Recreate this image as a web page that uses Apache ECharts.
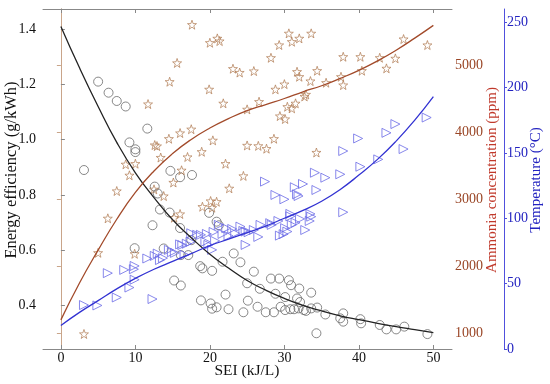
<!DOCTYPE html>
<html>
<head>
<meta charset="utf-8">
<script src="https://cdn.jsdelivr.net/npm/echarts@6/dist/echarts.min.js"></script>
<style>html,body{margin:0;padding:0;background:#fff}#c{width:550px;height:384px}</style>
</head>
<body>
<div id="c"></div>
<script>
// ---- data ----
var xTicks = [0, 10, 20, 30, 40, 50];
var effTicks = [0.4, 0.6, 0.8, 1.0, 1.2, 1.4];
var nh3Ticks = [1000, 2000, 3000, 4000, 5000];
var tempTicks = [0, 50, 100, 150, 200, 250];

// Energy efficiency (g/kWh) measured points
var effPoints = [[3.1,0.89],[5.0,1.21],[6.4,1.17],[7.5,1.14],[8.7,1.12],[11.6,1.04],[9.2,0.99],[10.0,0.965],[10.0,0.955],[14.7,0.887],[16.0,0.864],[17.6,0.872],[12.6,0.83],[13.0,0.805],[13.3,0.747],[14.6,0.736],[12.3,0.69],[16.0,0.68],[9.9,0.607],[17.5,0.636],[16.1,0.582],[17.1,0.582],[13.8,0.606],[15.2,0.49],[16.1,0.472],[18.7,0.542],[19.0,0.534],[18.8,0.418],[19.9,0.735],[20.9,0.703],[21.2,0.69],[21.7,0.558],[23.2,0.588],[24.1,0.556],[25.9,0.522],[20.3,0.525],[20.1,0.407],[20.3,0.388],[20.9,0.393],[22.1,0.439],[22.5,0.386],[24.5,0.375],[25.1,0.417],[26.4,0.395],[25.0,0.48],[26.7,0.46],[27.5,0.375],[28.6,0.375],[28.2,0.497],[29.3,0.497],[30.6,0.491],[30.9,0.473],[32.0,0.461],[33.6,0.446],[28.8,0.442],[30.1,0.43],[31.7,0.425],[32.1,0.412],[29.5,0.395],[30.1,0.383],[30.8,0.386],[31.3,0.386],[31.9,0.389],[32.6,0.383],[32.9,0.38],[33.6,0.389],[34.4,0.392],[35.5,0.367],[34.3,0.299],[37.5,0.353],[37.9,0.371],[37.9,0.341],[40.2,0.35],[40.3,0.335],[42.8,0.329],[43.7,0.313],[45.0,0.313],[46.1,0.323],[49.2,0.296]];

// Ammonia concentration (ppm) measured points
var nh3Points = [[3.1,990],[5.0,2200],[6.3,2714],[7.5,3121],[8.7,3519],[9.2,3355],[10.0,3528],[9.9,2185],[11.7,4417],[12.5,3146],[12.6,3806],[12.9,3791],[13.4,3620],[13.8,3046],[14.5,3900],[14.6,4750],[15.6,5030],[15.1,3248],[15.2,2723],[16.0,2778],[16.0,3985],[16.2,3430],[17.0,3628],[17.5,4042],[17.6,5600],[18.9,3706],[19.0,2887],[19.9,4636],[20.0,5331],[20.1,2972],[20.3,2872],[20.9,2961],[20.4,3876],[21.0,5396],[21.3,5356],[21.8,4428],[22.1,3528],[22.6,3161],[23.1,4944],[24.0,4887],[24.5,3346],[25.0,4338],[25.0,3800],[25.9,4909],[26.5,3794],[26.6,4452],[27.6,3752],[28.2,5107],[28.6,3900],[28.8,4636],[29.3,5297],[29.4,4238],[30.0,4714],[30.1,4194],[30.4,4377],[30.6,5471],[31.0,5346],[31.0,4353],[31.5,4428],[31.7,4899],[32.0,5396],[32.0,4824],[32.7,4530],[32.9,4560],[33.5,4760],[33.6,5471],[34.3,3695],[34.4,4914],[35.6,4735],[37.6,4824],[37.9,5122],[37.9,4700],[40.2,5122],[40.4,4914],[42.8,5107],[43.7,4949],[44.9,5098],[46.0,5386],[49.2,5297]];

// Temperature (°C) measured points
var tempPoints = [[3.1,33.6],[4.9,33.3],[6.3,58],[7.5,39.4],[8.5,60.5],[9.2,47],[9.8,61],[9.9,63.5],[9.9,53],[11.6,69.2],[12.3,38.2],[12.6,71.2],[13.0,73],[13.3,68],[13.7,69.5],[14.5,75.8],[14.9,74],[15.3,73.5],[16.0,80],[16.3,79.5],[16.6,72],[16.9,80.5],[17.4,82],[17.5,88.5],[18.3,87.3],[18.8,87.3],[19.6,88],[19.4,82],[19.8,79.6],[20.5,89.5],[20.7,82.7],[20.3,75.8],[21.2,94.9],[21.7,88],[22.2,92.4],[23.0,91.8],[22.5,86.5],[23.4,88.5],[24.1,93.6],[24.5,90.3],[24.8,79.6],[24.8,89.8],[25.2,89.3],[25.9,91],[26.5,85.7],[26.8,94.9],[27.4,128],[28.1,96.2],[28.3,94.9],[28.8,117.8],[29.2,97.9],[29.4,86.7],[29.9,87.8],[30.0,114.5],[30.1,92.4],[30.4,89.8],[30.8,103.3],[30.8,101.5],[31.0,94.9],[31.4,123.7],[31.5,96.6],[31.7,118.3],[31.9,117],[32.1,99.5],[32.5,126.2],[32.8,91],[33.4,97.9],[33.5,103.3],[33.6,101.2],[34.1,134.8],[34.3,121.6],[35.5,131],[37.5,133.6],[37.9,151.4],[37.9,104.6],[39.9,161],[40.2,139.4],[42.6,145],[43.7,165.3],[44.9,172],[46.0,152.9],[49.1,177]];

// fitted curves
var fitX = [0,2.5,5,7.5,10,12.5,15,17.5,20,22.5,25,27.5,30,32.5,35,37.5,40,42.5,45,47.5,50];
var effFit = [1.41,1.26,1.12,0.99,0.88,0.79,0.71,0.645,0.585,0.535,0.49,0.455,0.425,0.40,0.38,0.362,0.348,0.335,0.323,0.312,0.301];
var nh3Fit = [1200,1750,2240,2700,3100,3420,3680,3890,4060,4200,4320,4410,4500,4600,4690,4800,4920,5060,5220,5400,5590];
var tempFit = [18,28,37,46,54,61,67,73,79,84,89,94,100,106,113,122,133,145,159,175,193];

// axis titles
var xTitle = 'SEI (kJ/L)';
var effTitle = 'Energy efficiency (g/kWh)';
var nh3Title = 'Ammonia concentration (ppm)';
var tempTitle = 'Temperature (°C)';

function pairs(xs, ys) { return xs.map(function (x, i) { return [x, ys[i]]; }); }

var FONT = '"Liberation Serif", "Times New Roman", Times, serif';
var STAR = 'path://M50 0L61.76 33.82L97.55 34.55L69.02 56.18L79.39 90.45L50 70L20.61 90.45L30.98 56.18L2.45 34.55L38.24 33.82Z';

function title(text, x, y, size, color, rot) {
  return {
    type: 'text', x: x, y: y, rotation: rot, silent: true,
    style: {text: text, fontFamily: FONT, fontSize: size, fill: color, align: 'center', verticalAlign: 'middle'}
  };
}

var chart = echarts.init(document.getElementById('c'), null, {renderer: 'canvas'});
chart.setOption({
  animation: false,
  backgroundColor: '#fff',
  grid: {left: 43, right: 98, top: 9, bottom: 35, containLabel: false, outerBoundsMode: 'none'},
  graphic: [
    title(xTitle, 247, 371, 15.5, '#111', 0),
    title(effTitle, 12, 170, 16.5, '#111', Math.PI / 2),
    title(nh3Title, 492.5, 180, 15, '#c0392b', Math.PI / 2),
    title(tempTitle, 536, 180, 15, '#2323c0', Math.PI / 2)
  ],
  xAxis: [{
    type: 'value', position: 'bottom', min: -2.4, max: 52.5,
    axisLine: {lineStyle: {color: '#888', width: 1}},
    axisTick: {inside: true, length: 4, lineStyle: {color: '#888'}, customValues: xTicks},
    axisLabel: {customValues: xTicks, fontFamily: FONT, fontSize: 14, color: '#111', margin: 2},
    splitLine: {show: false}
  }, {
    type: 'value', position: 'top', min: -2.4, max: 52.5,
    axisLine: {lineStyle: {color: '#888', width: 1}},
    axisTick: {inside: true, length: 4, lineStyle: {color: '#888'}, customValues: xTicks},
    axisLabel: {show: false}, splitLine: {show: false}
  }],
  yAxis: [{
    type: 'value', position: 'left', min: 0.242, max: 1.473,
    axisLine: {show: true, lineStyle: {color: '#888', width: 1}},
    axisTick: {show: true, inside: true, length: 4, lineStyle: {color: '#888'}, customValues: effTicks},
    axisLabel: {customValues: effTicks, fontFamily: FONT, fontSize: 14, color: '#111', margin: 7,
      formatter: function (v) { return v.toFixed(1); }},
    splitLine: {show: false}
  }, {
    type: 'value', position: 'right', min: 766, max: 5834,
    axisLine: {show: true, lineStyle: {color: '#c9a58a', width: 1}},
    axisTick: {show: true, inside: true, length: 4, lineStyle: {color: '#c9a58a'}, customValues: nh3Ticks},
    axisLabel: {customValues: nh3Ticks, fontFamily: FONT, fontSize: 14, color: '#9a4626', margin: 3,
      formatter: function (v) { return String(Math.round(v)); }},
    splitLine: {show: false}
  }, {
    type: 'value', position: 'right', offset: 52, min: 0, max: 260,
    axisLine: {show: true, lineStyle: {color: '#5050dd', width: 1}},
    axisTick: {show: true, inside: false, length: 3, lineStyle: {color: '#5050dd'}, customValues: tempTicks},
    axisLabel: {customValues: tempTicks, fontFamily: FONT, fontSize: 14, color: '#2323c0', margin: 3,
      formatter: function (v) { return String(Math.round(v)); }},
    splitLine: {show: false}
  }],
  series: [{
    type: 'scatter', xAxisIndex: 0, yAxisIndex: 0, data: effPoints,
    symbol: 'circle', symbolSize: 9,
    itemStyle: {color: 'rgba(0,0,0,0)', borderColor: '#6a6a6a', borderWidth: 1}
  }, {
    type: 'scatter', xAxisIndex: 0, yAxisIndex: 1, data: nh3Points,
    symbol: STAR, symbolSize: 9,
    itemStyle: {color: 'rgba(0,0,0,0)', borderColor: '#b07a52', borderWidth: 0.9}
  }, {
    type: 'scatter', xAxisIndex: 0, yAxisIndex: 2, data: tempPoints,
    symbol: 'triangle', symbolSize: 9, symbolRotate: -90,
    itemStyle: {color: 'rgba(0,0,0,0)', borderColor: '#6a6ae6', borderWidth: 1}
  }, {
    type: 'line', xAxisIndex: 0, yAxisIndex: 0, data: pairs(fitX, effFit),
    smooth: true, showSymbol: false, lineStyle: {color: '#222', width: 1.3}, z: 5
  }, {
    type: 'line', xAxisIndex: 0, yAxisIndex: 1, data: pairs(fitX, nh3Fit),
    smooth: true, showSymbol: false, lineStyle: {color: '#a24a2a', width: 1.3}, z: 5
  }, {
    type: 'line', xAxisIndex: 0, yAxisIndex: 2, data: pairs(fitX, tempFit),
    smooth: true, showSymbol: false, lineStyle: {color: '#3232d2', width: 1.3}, z: 5
  }]
});
</script>
</body>
</html>
